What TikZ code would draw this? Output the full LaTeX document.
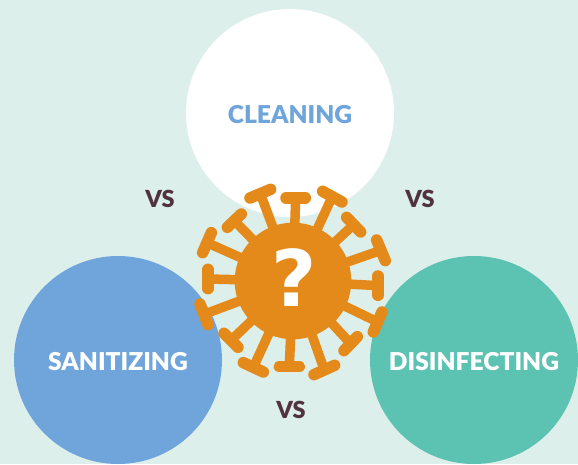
\documentclass[tikz,border=0pt]{standalone}
\usepackage{fontspec}
\setmainfont{Lato}[BoldFont={Lato Black}]
\newfontfamily\qfont{DejaVu Sans}[BoldFont={DejaVu Sans Bold}]
\definecolor{bgc}{HTML}{DDEFEB}
\definecolor{bluec}{HTML}{6FA5DA}
\definecolor{tealc}{HTML}{5CC2B1}
\definecolor{orangec}{HTML}{E48A1A}
\definecolor{darkc}{HTML}{50333F}
\tikzset{
  disc/.style={circle,minimum size=208pt,inner sep=0pt,text=white,text height=20pt,text depth=0pt,font=\fontsize{24.6}{24.6}\selectfont\bfseries},
  vslabel/.style={text=darkc,font=\fontsize{23.5}{23.5}\selectfont\bfseries,inner sep=0pt},
  stem/.style={draw=orangec,line width=9.5pt},
  capline/.style={draw=orangec,line width=11.5pt,line cap=round}
}
\begin{document}
\begin{tikzpicture}[x=1pt,y=-1pt]
\path[use as bounding box,fill=bgc] (0,0) rectangle (578,464);
\clip (0,0) rectangle (578,464);
\node[disc,fill=white,text=bluec] (clean) at (290,113) {CLEANING};
\node[disc,fill=bluec] (san) at (118,360) {SANITIZING};
\node[disc,fill=tealc] (dis) at (474,360) {DISINFECTING};
\node[vslabel] (v1) at (160,199) {VS};
\node[vslabel] (v2) at (420,199) {VS};
\node[vslabel] (v3) at (291,410) {VS};
\begin{scope}[shift={(180,170)},x=0.3333pt,y=-0.3333pt]
\coordinate (vc) at (339,333);
\foreach \ax/\ay/\bx/\by in {
 318/84/376/84, 428/64/486/96, 500/142/542/186, 590/210/616/272,
 594/318/594/376, 606/426/580/486, 532/500/492/542, 464/586/402/614,
 358/590/298/590, 250/606/190/578, 174/532/132/490, 84/464/60/402,
 84/298/84/356, 68/248/94/188, 142/172/184/132, 210/84/272/58}{
  \draw[stem] (vc) -- ({(\ax+\bx)/2},{(\ay+\by)/2});
  \draw[capline] (\ax,\ay) -- (\bx,\by);
}
\fill[orangec] (vc) circle[radius=175];
\end{scope}
\node[text=white,inner sep=0pt,font=\fontsize{78}{78}\selectfont\qfont\bfseries] (q) at (294,278) {?};
\end{tikzpicture}
\end{document}
